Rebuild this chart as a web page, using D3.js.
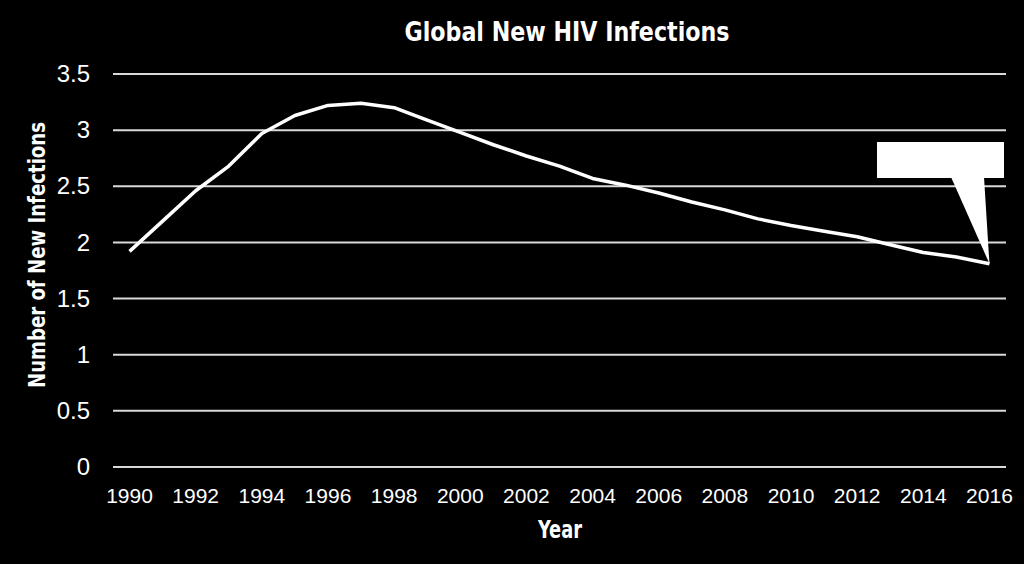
<!DOCTYPE html>
<html>
<head>
<meta charset="utf-8">
<script src="https://cdn.jsdelivr.net/npm/d3@7"></script>
<style>
  html, body { margin: 0; padding: 0; background: #000; }
  .narrow { font-family: "Liberation Sans Narrow", "Arial Narrow", "DejaVu Sans Condensed", sans-serif; font-weight: bold; }
  .tick text { font-family: "Liberation Sans", Arial, sans-serif; }
</style>
</head>
<body>
<div id="chart"></div>
<script>
// Data (millions of new infections)
const years = [1990, 1991, 1992, 1993, 1994, 1995, 1996, 1997, 1998, 1999,
               2000, 2001, 2002, 2003, 2004, 2005, 2006, 2007, 2008, 2009,
               2010, 2011, 2012, 2013, 2014, 2015, 2016];
const infections = [1.92, 2.19, 2.46, 2.68, 2.97, 3.13, 3.22, 3.24, 3.20, 3.09,
                    2.98, 2.87, 2.77, 2.68, 2.57, 2.51, 2.44, 2.36, 2.29, 2.21,
                    2.15, 2.10, 2.05, 1.98, 1.91, 1.87, 1.81];
const yTicks = [0, 0.5, 1, 1.5, 2, 2.5, 3, 3.5];
const xTickYears = years.filter(y => y % 2 === 0);

const width = 1024;
const height = 564;
const margin = { top: 74, right: 18, bottom: 97, left: 113 };

const svg = d3.select("#chart")
    .append("svg")
    .attr("width", width)
    .attr("height", height)
    .style("background", "#000");

const x = d3.scaleBand()
    .domain(years)
    .range([margin.left, width - margin.right])
    .padding(0);

const y = d3.scaleLinear()
    .domain([0, 3.5])
    .range([height - margin.bottom, margin.top]);

const cx = d => x(d) + x.bandwidth() / 2;

// Gridlines
svg.append("g")
    .selectAll("line")
    .data(yTicks)
    .enter()
    .append("line")
    .attr("x1", margin.left)
    .attr("x2", width - margin.right)
    .attr("y1", d => y(d))
    .attr("y2", d => y(d))
    .attr("stroke", "#d9d9d9")
    .attr("stroke-width", 2);

// Y axis labels
const yAxis = svg.append("g")
    .attr("transform", `translate(${margin.left},0)`)
    .call(d3.axisLeft(y).tickValues(yTicks).tickFormat(d3.format("")).tickSize(0).tickPadding(23));
yAxis.select(".domain").remove();
yAxis.selectAll("text")
    .attr("fill", "#fff")
    .attr("font-size", 24);

// X axis labels
const xAxis = svg.append("g")
    .attr("transform", `translate(0,${height - margin.bottom})`)
    .call(d3.axisBottom(x).tickValues(xTickYears).tickSize(0).tickPadding(21));
xAxis.select(".domain").remove();
xAxis.selectAll("text")
    .attr("fill", "#fff")
    .attr("font-size", 21);

// Line
const line = d3.line()
    .x((d, i) => cx(years[i]))
    .y(d => y(d));

svg.append("path")
    .datum(infections)
    .attr("d", line)
    .attr("fill", "none")
    .attr("stroke", "#fff")
    .attr("stroke-width", 3.5)
    .attr("stroke-linejoin", "round");

// Callout pointing at the last value
const lastX = cx(years[years.length - 1]);
const lastY = y(infections[infections.length - 1]);
svg.append("rect")
    .attr("x", 877)
    .attr("y", 142)
    .attr("width", 127)
    .attr("height", 36)
    .attr("fill", "#fff");
svg.append("path")
    .attr("d", `M951,177 L984,177 L${lastX},${lastY} Z`)
    .attr("fill", "#fff");

// Title
svg.append("text")
    .attr("class", "narrow")
    .attr("x", 567)
    .attr("y", 41)
    .attr("text-anchor", "middle")
    .attr("fill", "#fff")
    .attr("font-size", 26)
    .attr("textLength", 325)
    .attr("lengthAdjust", "spacingAndGlyphs")
    .text("Global New HIV Infections");

// Axis titles
svg.append("text")
    .attr("class", "narrow")
    .attr("x", 560)
    .attr("y", 538)
    .attr("text-anchor", "middle")
    .attr("fill", "#fff")
    .attr("font-size", 24)
    .attr("textLength", 44)
    .attr("lengthAdjust", "spacingAndGlyphs")
    .text("Year");

svg.append("text")
    .attr("class", "narrow")
    .attr("transform", "translate(45,255) rotate(-90)")
    .attr("text-anchor", "middle")
    .attr("fill", "#fff")
    .attr("font-size", 23)
    .attr("textLength", 266)
    .attr("lengthAdjust", "spacingAndGlyphs")
    .text("Number of New Infections");
</script>
</body>
</html>
